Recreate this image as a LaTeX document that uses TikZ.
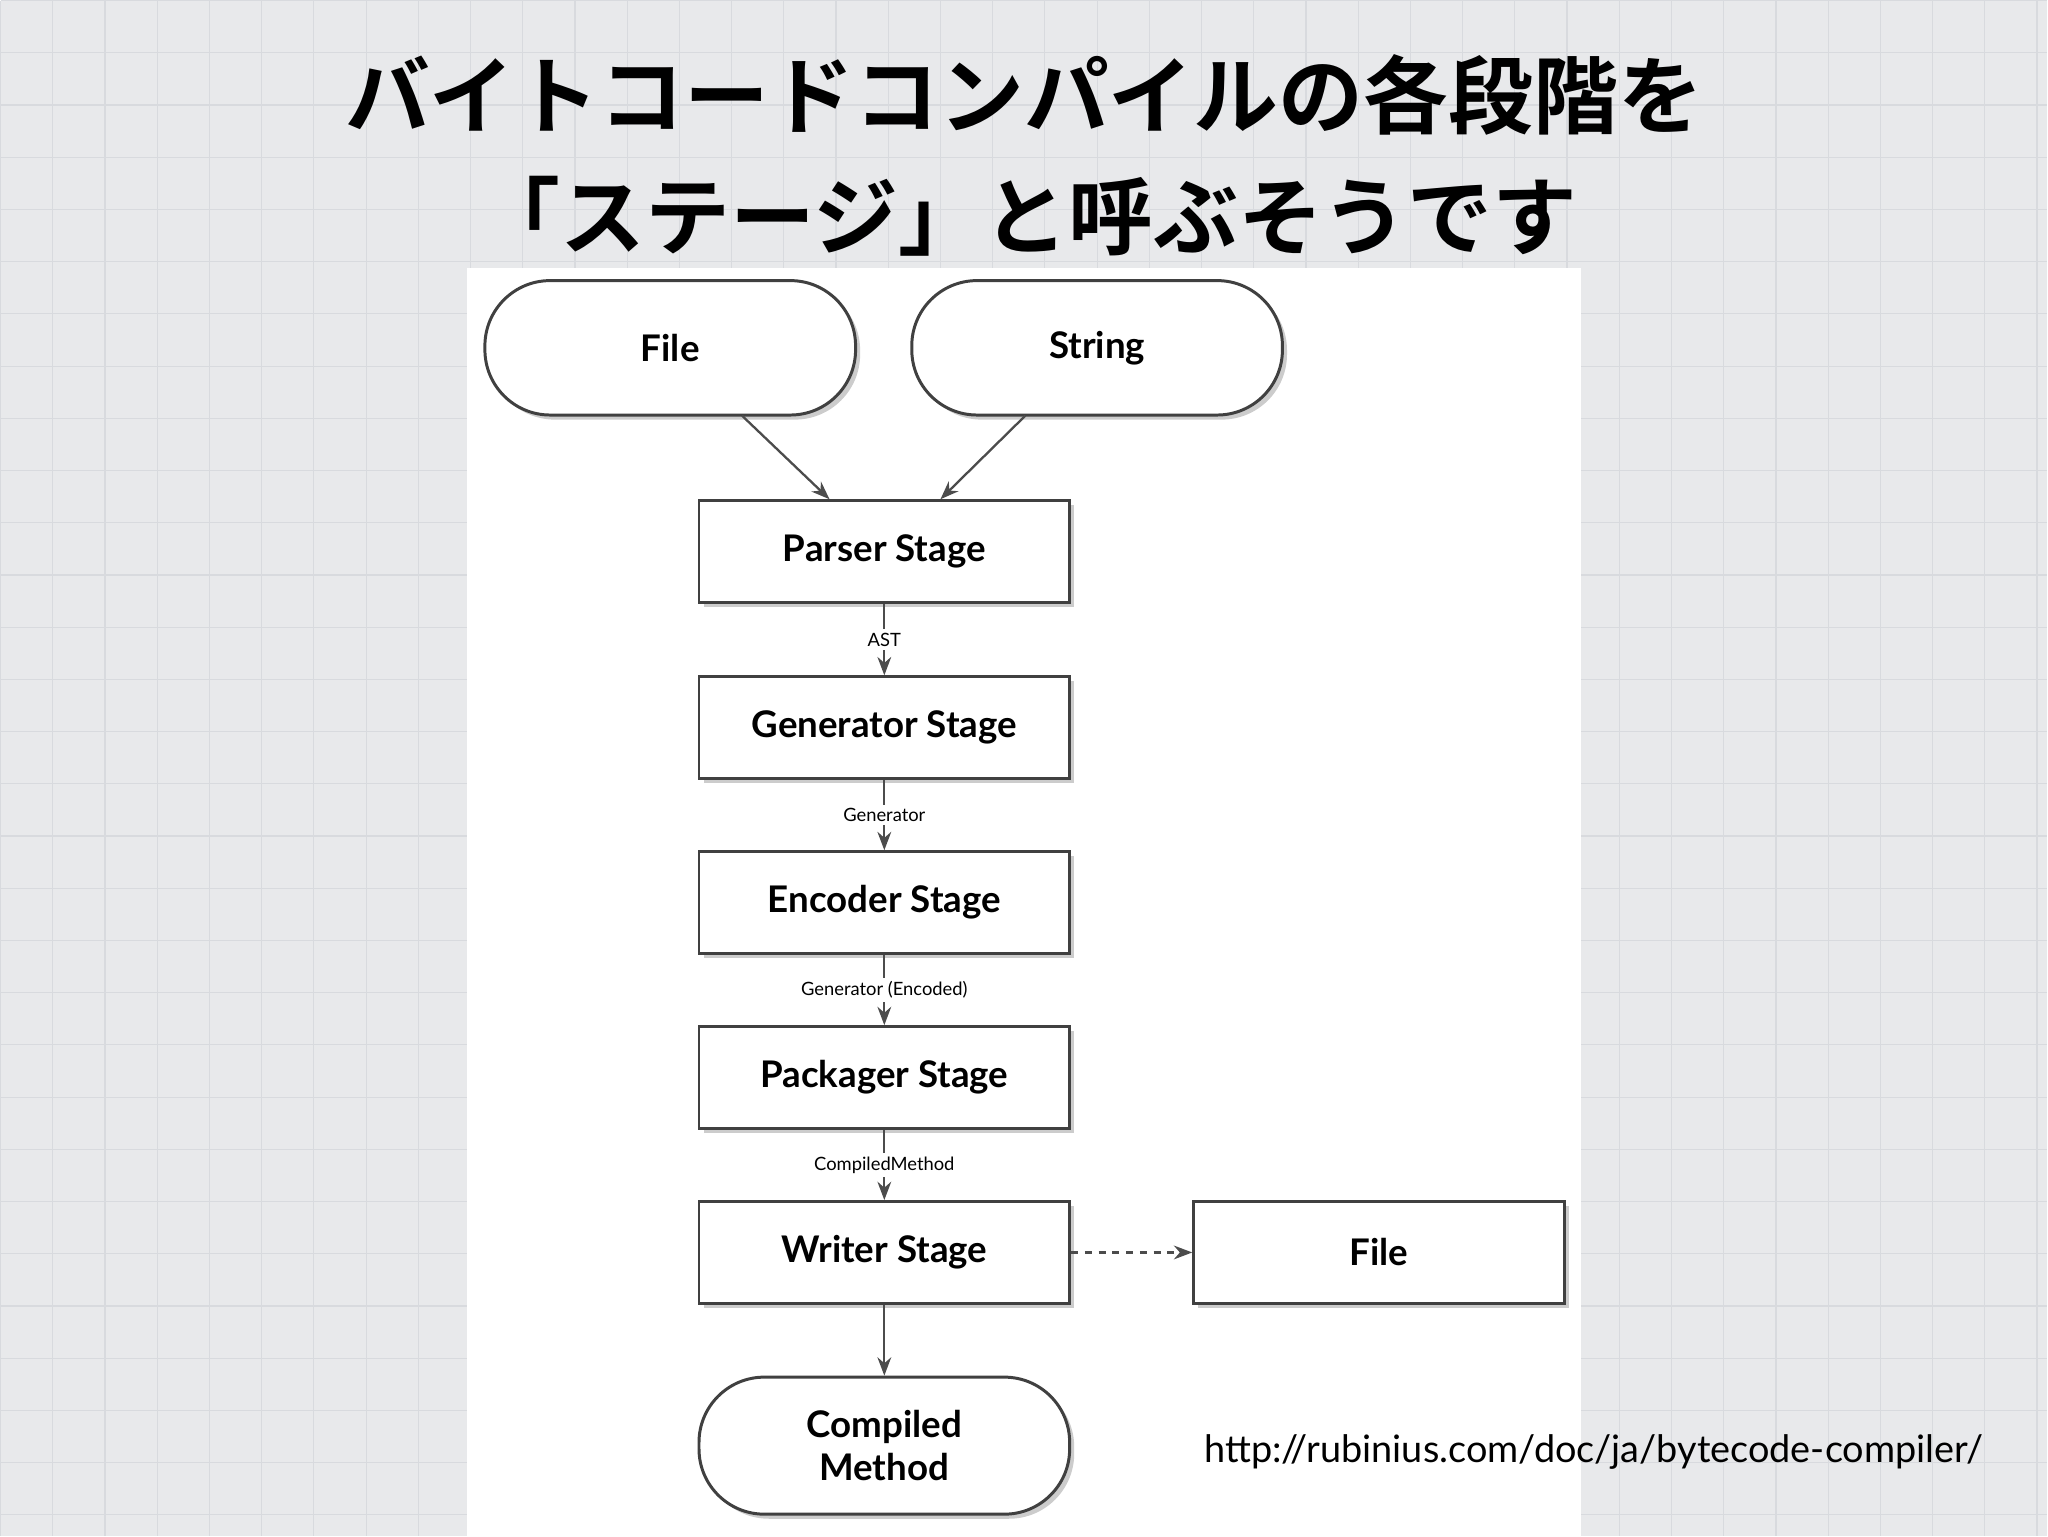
\documentclass[tikz,border=0pt]{standalone}
\usepackage{fontspec}
\setmainfont{Lato}
\newfontfamily\cjk{Noto Sans CJK JP}[BoldFont={* Bold}]
\usetikzlibrary{shadows,arrows.meta}
\definecolor{bgc}{RGB}{232,233,235}
\definecolor{gridc}{RGB}{216,218,222}
\tikzset{
 stagebox/.style={draw=black!75,line width=1.3pt,fill=white,minimum width=5.68cm,minimum height=1.56cm,font=\fontsize{16}{19}\selectfont\bfseries,drop shadow={shadow xshift=0.07cm,shadow yshift=-0.07cm,opacity=0.4}},
 roundbox/.style={stagebox,rounded corners=1cm,minimum height=2.06cm},
 lbl/.style={fill=white,font=\fontsize{8}{9}\selectfont,inner sep=1.5pt},
 conn/.style={draw=black!70,line width=1pt,-{Stealth[length=8pt,width=6pt]}}
}
\begin{document}
\begin{tikzpicture}[x=0.02cm,y=-0.02cm]
\fill[bgc] (0,0) rectangle (1568,1176);
\foreach \i in {0,40,...,1560} \draw[gridc,line width=0.5pt] (\i,0) -- (\i,1176);
\foreach \j in {0,40,...,1160} \draw[gridc,line width=0.5pt] (0,\j) -- (1568,\j);
\useasboundingbox (0,0) rectangle (1568,1176);
\fill[white] (357,205) rectangle (1211,1176);
\node[font=\cjk\bfseries\fontsize{37}{40}\selectfont] (t1) at (784,72) {バイトコードコンパイルの各段階を};
\node[font=\cjk\bfseries\fontsize{37}{40}\selectfont] (t2) at (786,165) {「ステージ」と呼ぶそうです};
\node[roundbox] (file) at (513,266) {File};
\node[roundbox] (str) at (840,266) {String};
\node[stagebox] (parser) at (677,422) {Parser Stage};
\node[stagebox] (gen) at (677,557) {Generator Stage};
\node[stagebox] (enc) at (677,691) {Encoder Stage};
\node[stagebox] (pack) at (677,825) {Packager Stage};
\node[stagebox] (wri) at (677,959) {Writer Stage};
\node[stagebox] (fout) at (1056,959) {File};
\node[roundbox,minimum height=2.1cm,align=center,font=\fontsize{16}{19}\selectfont\bfseries] (cm) at (677,1107) {Compiled\\Method};
\coordinate (fa) at (568,318); \coordinate (sa) at (785,318);
\coordinate (pa) at (635,382); \coordinate (pb) at (720,382);
\draw[conn] (fa) -- (pa);
\draw[conn] (sa) -- (pb);
\draw[conn] (parser) -- node[lbl]{AST} (gen);
\draw[conn] (gen) -- node[lbl]{Generator} (enc);
\draw[conn] (enc) -- node[lbl]{Generator (Encoded)} (pack);
\draw[conn] (pack) -- node[lbl]{CompiledMethod} (wri);
\draw[conn] (wri) -- (cm);
\draw[conn,dashed] (wri) -- (fout);
\node[anchor=west,font=\fontsize{16.5}{18}\selectfont] (url) at (916,1112) {http://rubinius.com/doc/ja/bytecode-compiler/};
\end{tikzpicture}
\end{document}
